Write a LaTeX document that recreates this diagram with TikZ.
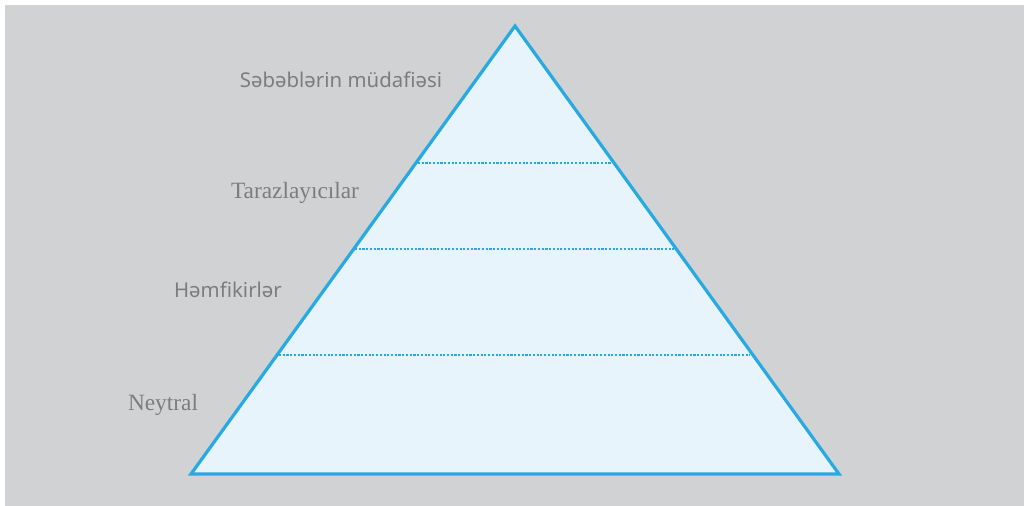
\documentclass[tikz,border=0pt]{standalone}
\usepackage{fontspec}
\setmainfont{Liberation Serif}
\newfontfamily\labelsans{Noto Sans}
\definecolor{bggray}{HTML}{D1D2D4}
\definecolor{edgecyan}{HTML}{27AAE1}
\definecolor{fillblue}{HTML}{E8F4FB}
\definecolor{txtgray}{HTML}{7D7D7F}
\begin{document}
\begin{tikzpicture}[x=0.75pt,y=-0.75pt,
  sanslabel/.style={text=txtgray,font=\labelsans\fontsize{15.3}{17}\selectfont,inner sep=0pt},
  seriflabel/.style={text=txtgray,font=\fontsize{17.5}{19}\selectfont,inner sep=0pt},
  divider/.style={edgecyan,line width=1.8pt,dash pattern=on 1.6pt off 1.2pt}]
\useasboundingbox (0,0) rectangle (1024,506);
\fill[white] (0,0) rectangle (1024,506);
\fill[bggray] (5,5) rectangle (1024,506);
\coordinate (apex) at (515,26);
\coordinate (bl) at (191,474);
\coordinate (br) at (839,474);
\draw[edgecyan,fill=fillblue,line width=2.4pt,line join=miter] (apex) -- (br) -- (bl) -- cycle;
\coordinate (d1a) at (418,163); \coordinate (d1b) at (611,163);
\coordinate (d2a) at (355,249); \coordinate (d2b) at (674,249);
\coordinate (d3a) at (279,355); \coordinate (d3b) at (750,355);
\draw[divider] (d1a) -- (d1b);
\draw[divider] (d2a) -- (d2b);
\draw[divider] (d3a) -- (d3b);
\node[sanslabel] (l1) at (341,80) {Səbəblərin müdafiəsi};
\node[seriflabel] (l2) at (295,193) {Tarazlayıcılar};
\node[sanslabel] (l3) at (228,290) {Həmfikirlər};
\node[seriflabel] (l4) at (163,405) {Neytral};
\end{tikzpicture}
\end{document}
